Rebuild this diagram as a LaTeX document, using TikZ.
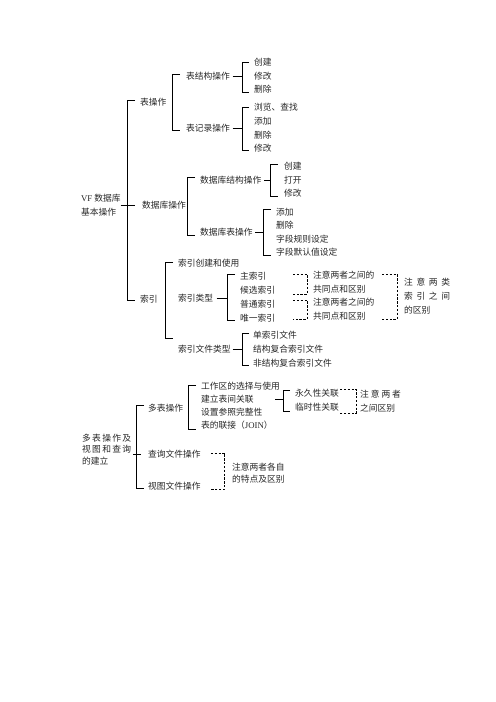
\documentclass[tikz,border=0pt]{standalone}
\usepackage{fontspec}
\setmainfont{Noto Sans CJK SC}
\newfontfamily\enfont{Liberation Serif}
\usetikzlibrary{calc}
\tikzset{
	item/.style={anchor=west,inner sep=0pt,text=black!85,font=\fontsize{10.5}{16.8}\selectfont},
	note/.style={item,align=left},
	brk/.style={color=black,line width=1.1pt},
	dbrk/.style={color=black,line width=1.1pt,dash pattern=on 2.8pt off 1.8pt}
}
\begin{document}
\begin{tikzpicture}[x=1.2pt,y=-1.2pt]
	\useasboundingbox (0,0) rectangle (496,702);
	
	% VF 数据库基本操作
	\node[note] (vf) at (81,205) {{\enfont VF} 数据库\\基本操作};
	\node[item] (bcz) at (140,102) {表操作};
	\node[item] (sjkcz) at (142,205) {数据库操作};
	\node[item] (sy) at (140,299) {索引};
	\coordinate (k1) at ($(bcz.west)+(-13,-2)$);
	\draw[brk] ($(bcz.west)+(-5,-2)$) -- (k1) |- ($(sy.west)+(-5,1)$);
	\draw[brk] (vf.east) -- ($(sjkcz.west)+(-7,0)$);
	
	% 表操作
	\node[item] (bjg) at (186,76) {表结构操作};
	\node[item] (bjl) at (186,128) {表记录操作};
	\coordinate (k2) at ($(bjg.west)+(-14,-2)$);
	\draw[brk] ($(bjg.west)+(-6,-2)$) -- (k2) |- ($(bjl.west)+(-6,2)$);
	
	\node[item] (bjg1) at (254,62) {创建};
	\node[item] (bjg2) at (254,76) {修改};
	\node[item] (bjg3) at (254,89) {删除};
	\coordinate (k3) at ($(bjg1.west)+(-12,0)$);
	\draw[brk] ($(bjg1.west)+(-5,0)$) -- (k3) |- ($(bjg3.west)+(-5,3)$);
	\draw[brk] ([xshift=3pt]bjg.east) -- (bjg.east -| k3);
	
	\node[item] (bjl1) at (254,107) {浏览、查找};
	\node[item] (bjl2) at (254,121) {添加};
	\node[item] (bjl3) at (254,135) {删除};
	\node[item] (bjl4) at (254,148) {修改};
	\coordinate (k4) at ($(bjl1.west)+(-12,0)$);
	\draw[brk] ($(bjl1.west)+(-5,0)$) -- (k4) |- ($(bjl4.west)+(-5,2)$);
	\draw[brk] ([xshift=3pt]bjl.east) -- (bjl.east -| k4);
	
	% 数据库操作
	\node[item] (sjg) at (200,180) {数据库结构操作};
	\node[item] (sjb) at (200,232) {数据库表操作};
	\coordinate (k5) at ($(sjg.west)+(-13,-3)$);
	\draw[brk] ($(sjg.west)+(-5,-3)$) -- (k5) |- ($(sjb.west)+(-5,3)$);
	
	\node[item] (sjg1) at (284,166) {创建};
	\node[item] (sjg2) at (284,180) {打开};
	\node[item] (sjg3) at (284,193) {修改};
	\coordinate (k6) at ($(sjg1.west)+(-14,-2)$);
	\draw[brk] ($(sjg1.west)+(-6,-2)$) -- (k6) |- ($(sjg3.west)+(-6,3)$);
	\draw[brk] ([xshift=3pt]sjg.east) -- (sjg.east -| k6);
	
	\node[item] (sjb1) at (276,212) {添加};
	\node[item] (sjb2) at (276,225) {删除};
	\node[item] (sjb3) at (276,239) {字段规则设定};
	\node[item] (sjb4) at (276,252) {字段默认值设定};
	\coordinate (k7) at ($(sjb1.west)+(-13,-3)$);
	\draw[brk] ($(sjb1.west)+(-5,-3)$) -- (k7) |- ($(sjb4.west)+(-5,3)$);
	\draw[brk] ([xshift=3pt]sjb.east) -- (sjb.east -| k7);
	
	% 索引
	\node[item] (sycj) at (178,263) {索引创建和使用};
	\node[item] (sylx) at (178,298) {索引类型};
	\node[item] (sywj) at (178,349) {索引文件类型};
	\coordinate (k8) at ($(sycj.west)+(-13,-1)$);
	\draw[brk] ($(sycj.west)+(-5,-1)$) -- (k8) |- ($(sywj.west)+(-5,-11)$);
	
	\node[item] (sy1) at (240,276) {主索引};
	\node[item] (sy2) at (240,290) {候选索引};
	\node[item] (sy3) at (240,304) {普通索引};
	\node[item] (sy4) at (240,318) {唯一索引};
	\coordinate (k9) at ($(sy1.west)+(-13,-2)$);
	\draw[brk] ($(sy1.west)+(-5,-2)$) -- (k9) |- ($(sy4.west)+(-5,2)$);
	\draw[brk] ([xshift=4pt]sylx.east) -- (sylx.east -| k9);
	
	\node[note] (zy1) at (313,282) {注意两者之间的\\共同点和区别};
	\node[note] (zy2) at (313,309) {注意两者之间的\\共同点和区别};
	\draw[dbrk] ($(zy1.west)+(-20,-8)$) -- ++(14,0) |- ($(zy1.west)+(-20,12)$);
	\draw[dbrk] ($(zy2.west)+(-20,-9)$) -- ++(14,0) |- ($(zy2.west)+(-20,10)$);
	\node[note] (zy3) at (404,296) {\makebox[55pt][s]{注 意 两 类}\\\makebox[55pt][s]{索 引 之 间}\\的区别};
	\draw[dbrk] ($(zy3.west)+(-22,-22)$) -- ++(15,0) |- ($(zy3.west)+(-22,23)$);
	
	\node[item] (sywj1) at (253,335) {单索引文件};
	\node[item] (sywj2) at (253,349) {结构复合索引文件};
	\node[item] (sywj3) at (253,363) {非结构复合索引文件};
	\coordinate (k10) at ($(sywj1.west)+(-11,-2)$);
	\draw[brk] ($(sywj1.west)+(-4,-2)$) -- (k10) |- ($(sywj3.west)+(-4,2)$);
	\draw[brk] ([xshift=2pt]sywj.east) -- (sywj.east -| k10);
	
	% 多表操作及视图和查询的建立
	\node[note,font=\fontsize{10.5}{13.8}\selectfont] (dbst) at (82,449.5) {\makebox[55pt][s]{多 表 操 作 及}\\\makebox[55pt][s]{视 图 和 查 询}\\的建立};
	\node[item] (db) at (148,408) {多表操作};
	\node[item] (cx) at (148,454) {查询文件操作};
	\node[item] (st) at (148,486) {视图文件操作};
	\coordinate (k11) at ($(db.west)+(-12,-3)$);
	\draw[brk] ($(db.west)+(-4,-3)$) -- (k11) |- ($(st.west)+(-4,2)$);
	\draw[brk] ($(cx.west)+(-15,0)$) -- ($(cx.west)+(-7,0)$);
	
	\node[item] (db1) at (201,386) {工作区的选择与使用};
	\node[item] (db2) at (201,399) {建立表间关联};
	\node[item] (db3) at (201,412) {设置参照完整性};
	\node[item] (db4) at (201,425) {表的联接（{\enfont JOIN}）};
	\coordinate (k12) at ($(db1.west)+(-13,-1)$);
	\draw[brk] ($(db1.west)+(-5,-1)$) -- (k12) |- ($(db4.west)+(-5,4)$);
	
	\node[item] (gl1) at (295,393) {永久性关联};
	\node[item] (gl2) at (295,407) {临时性关联};
	\coordinate (k13) at ($(gl1.west)+(-12,-3)$);
	\draw[brk] ($(gl1.west)+(-5,-3)$) -- (k13) |- ($(gl2.west)+(-5,4)$);
	\draw[brk] (db2.east -| k13) -- ++(-8,0);
	
	\node[note] (zy4) at (360,401) {\makebox[49pt][s]{注 意 两 者}\\之间区别};
	\draw[dbrk] ($(zy4.west)+(-20,-12)$) -- ++(16,0) |- ($(zy4.west)+(-20,12)$);
	
	\node[note,font=\fontsize{10.5}{14.4}\selectfont] (zy5) at (232,473) {注意两者各自\\的特点及区别};
	\draw[dbrk] ($(cx.east)+(10,-1)$) -- ++(14,0) |- ($(st.east)+(10,3)$);
	
\end{tikzpicture}
\end{document}
